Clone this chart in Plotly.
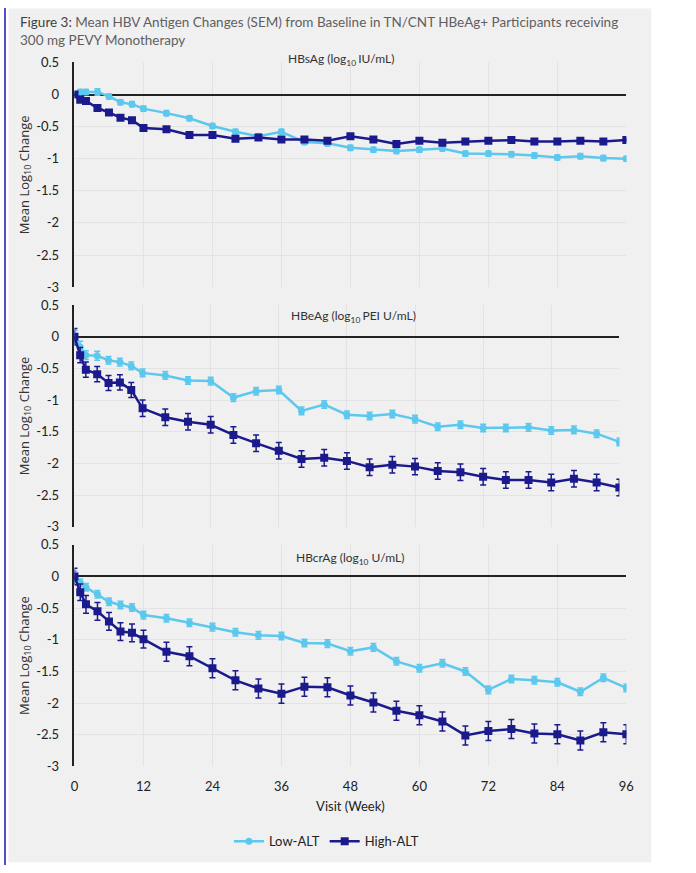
import plotly.graph_objects as go

# weeks of visit
weeks = [0, 1, 2, 4, 6, 8, 10, 12, 16, 20, 24, 28, 32, 36, 40, 44, 48, 52, 56, 60, 64, 68, 72, 76, 80, 84, 88, 92, 96]

# HBsAg
hbsag_low = [0, 0.04, 0.04, 0.04, -0.03, -0.12, -0.15, -0.22, -0.29, -0.37, -0.49, -0.58, -0.65, -0.58, -0.74,
             -0.76, -0.83, -0.86, -0.88, -0.86, -0.84, -0.92, -0.92, -0.93, -0.95, -0.98, -0.96, -0.99, -1.00]
hbsag_low_sem = [0.02, 0.04, 0.04, 0.05, 0.04, 0.04, 0.04, 0.04, 0.04, 0.04, 0.04, 0.04, 0.04, 0.04, 0.04,
                 0.04, 0.04, 0.04, 0.04, 0.04, 0.04, 0.04, 0.04, 0.04, 0.04, 0.04, 0.04, 0.04, 0.04]
hbsag_high = [0, -0.08, -0.10, -0.21, -0.28, -0.36, -0.40, -0.52, -0.54, -0.63, -0.63, -0.69, -0.67, -0.70, -0.70,
              -0.72, -0.65, -0.70, -0.77, -0.72, -0.75, -0.73, -0.72, -0.71, -0.73, -0.73, -0.72, -0.73, -0.71]
hbsag_high_sem = [0.02, 0.02, 0.02, 0.02, 0.02, 0.02, 0.02, 0.02, 0.02, 0.02, 0.02, 0.02, 0.02, 0.02, 0.02,
                  0.02, 0.02, 0.02, 0.02, 0.02, 0.02, 0.02, 0.02, 0.02, 0.02, 0.02, 0.02, 0.02, 0.02]

# HBeAg
hbeag_low = [0, -0.16, -0.29, -0.30, -0.37, -0.40, -0.46, -0.57, -0.61, -0.69, -0.70, -0.96, -0.86, -0.84, -1.17,
             -1.07, -1.23, -1.25, -1.22, -1.30, -1.42, -1.39, -1.44, -1.44, -1.43, -1.48, -1.47, -1.53, -1.66]
hbeag_low_sem = [0.10, 0.09, 0.07, 0.07, 0.06, 0.06, 0.06, 0.06, 0.06, 0.06, 0.06, 0.06, 0.06, 0.06, 0.06,
                 0.06, 0.06, 0.06, 0.06, 0.06, 0.06, 0.06, 0.06, 0.06, 0.06, 0.06, 0.06, 0.06, 0.06]
hbeag_high = [0, -0.29, -0.52, -0.59, -0.73, -0.72, -0.84, -1.13, -1.27, -1.34, -1.39, -1.55, -1.68, -1.80, -1.93,
              -1.91, -1.96, -2.06, -2.02, -2.05, -2.12, -2.14, -2.21, -2.26, -2.26, -2.30, -2.24, -2.30, -2.38]
hbeag_high_sem = [0.13, 0.12, 0.12, 0.12, 0.12, 0.12, 0.12, 0.13, 0.13, 0.13, 0.13, 0.13, 0.13, 0.13, 0.13,
                  0.13, 0.13, 0.13, 0.13, 0.13, 0.13, 0.13, 0.13, 0.13, 0.13, 0.13, 0.13, 0.13, 0.13]

# HBcrAg
hbcrag_low = [0, -0.10, -0.17, -0.28, -0.40, -0.45, -0.49, -0.61, -0.66, -0.73, -0.80, -0.88, -0.93, -0.94, -1.05,
              -1.06, -1.18, -1.12, -1.34, -1.45, -1.37, -1.50, -1.79, -1.62, -1.64, -1.67, -1.82, -1.60, -1.76]
hbcrag_low_sem = [0.08, 0.06, 0.06, 0.06, 0.06, 0.06, 0.06, 0.06, 0.06, 0.06, 0.06, 0.06, 0.06, 0.06, 0.06,
                  0.06, 0.06, 0.06, 0.06, 0.06, 0.06, 0.06, 0.06, 0.06, 0.06, 0.06, 0.06, 0.06, 0.06]
hbcrag_high = [0, -0.25, -0.44, -0.55, -0.71, -0.87, -0.89, -0.99, -1.19, -1.26, -1.45, -1.64, -1.77, -1.85, -1.74,
               -1.75, -1.88, -1.99, -2.12, -2.19, -2.29, -2.51, -2.44, -2.41, -2.48, -2.49, -2.59, -2.46, -2.49]
hbcrag_high_sem = [0.13, 0.13, 0.14, 0.14, 0.14, 0.14, 0.14, 0.14, 0.15, 0.15, 0.15, 0.15, 0.15, 0.15, 0.15,
                   0.15, 0.15, 0.15, 0.15, 0.15, 0.15, 0.15, 0.15, 0.15, 0.15, 0.15, 0.15, 0.15, 0.15]

panel_titles = ["HBsAg (log<sub>10 </sub>IU/mL)", "HBeAg (log<sub>10 </sub>PEI U/mL)", "HBcrAg (log<sub>10</sub> U/mL)"]
x_ticks = [0, 12, 24, 36, 48, 60, 72, 84, 96]
y_ticks = [0.5, 0, -0.5, -1, -1.5, -2, -2.5, -3]
y_labels = ["0.5", "0", "-0.5", "-1", "-1.5", "-2", "-2.5", "-3"]

LIGHT = "#5cc8ee"
DARK = "#1b1a8c"
FONT = "Lato"

# figure fills the window; positions below are wanted screen pixels,
# corrected for the small shrink/offset seen in the snapshot
W, H = 696, 873
S, AX, AY = 0.983, 3.5, 6.5
def fx(px):
    return ((px - AX) / S) / W
def fy(py):
    return 1 - ((py - AY) / S) / H

# plot areas in window pixels: (x0, x1, ytop, ybottom)
areas = [(74, 626, 61, 286), (74, 619, 304, 526), (74, 626, 544, 766)]

series = [
    (hbsag_low, hbsag_low_sem, hbsag_high, hbsag_high_sem),
    (hbeag_low, hbeag_low_sem, hbeag_high, hbeag_high_sem),
    (hbcrag_low, hbcrag_low_sem, hbcrag_high, hbcrag_high_sem),
]

fig = go.Figure()
layout = {}
for i, (low, low_sem, high, high_sem) in enumerate(series):
    n = "" if i == 0 else str(i + 1)
    x0, x1, yt, yb = areas[i]
    fig.add_trace(go.Scatter(
        x=weeks, y=low, name="Low-ALT", mode="lines+markers",
        line=dict(color=LIGHT, width=2.5),
        marker=dict(symbol="circle", size=7, color=LIGHT),
        error_y=dict(type="data", array=low_sem, color=LIGHT, thickness=1.5, width=3),
        xaxis="x" + n, yaxis="y" + n, showlegend=(i == 0)))
    fig.add_trace(go.Scatter(
        x=weeks, y=high, name="High-ALT", mode="lines+markers",
        line=dict(color=DARK, width=2.5),
        marker=dict(symbol="square", size=8, color=DARK),
        error_y=dict(type="data", array=high_sem, color=DARK, thickness=1.5, width=3),
        xaxis="x" + n, yaxis="y" + n, showlegend=(i == 0)))
    layout["xaxis" + n] = dict(
        domain=[fx(x0), fx(x1)], range=[0, 96], anchor="y" + n,
        tickvals=x_ticks, showticklabels=(i == 2), showgrid=True, gridcolor="#e3e3e3", gridwidth=1,
        zeroline=False, showline=False, ticks="", ticklabelstandoff=11,
        tickfont=dict(family=FONT, size=13, color="#222"),
        title=dict(text="Visit (Week)" if i == 2 else "", font=dict(family=FONT, size=13, color="#222"), standoff=8))
    layout["yaxis" + n] = dict(
        domain=[fy(yb), fy(yt)], range=[-3, 0.5], anchor="x" + n,
        tickvals=y_ticks, ticktext=y_labels, showgrid=True, gridcolor="#e3e3e3", gridwidth=1,
        zeroline=True, zerolinecolor="#222", zerolinewidth=1.5,
        showline=True, linecolor="#222", linewidth=1.5, ticks="", ticklabelstandoff=11,
        tickfont=dict(family=FONT, size=13, color="#222"),
        title=dict(text="Mean Log<sub>10</sub> Change", font=dict(family="Open Sans", size=13, color="#333"), standoff=4))

annotations = [dict(
    x=fx(18), y=fy(11), xref="paper", yref="paper", xanchor="left", yanchor="top", align="left",
    text="<span style='color:#3f3f3f'>Figure 3:</span> Mean HBV Antigen Changes (SEM) from Baseline in TN/CNT HBeAg+ Participants receiving<br>300 mg PEVY Monotherapy",
    showarrow=False, font=dict(family=FONT, size=13.5, color="#5f5f5f"))]
title_pos = [(341, 58), (353, 315), (350, 558)]
for t, (px, py) in zip(panel_titles, title_pos):
    annotations.append(dict(x=fx(px), y=fy(py), xref="paper", yref="paper", xanchor="center", yanchor="middle",
                            text=t, showarrow=False, font=dict(family=FONT, size=12, color="#333")))

fig.update_layout(
    width=W, height=H, margin=dict(l=0, r=0, t=0, b=0),
    paper_bgcolor="white", plot_bgcolor="#f0f0f0",
    shapes=[dict(type="rect", xref="paper", yref="paper", x0=max(fx(8), 0), x1=fx(651), y0=max(fy(862), 0), y1=min(fy(7), 1),
                 fillcolor="#f0f0f0", line=dict(width=0), layer="below"),
            dict(type="rect", xref="paper", yref="paper", x0=0, x1=2 / W, y0=0, y1=1,
                 fillcolor="#4d4dc6", line=dict(width=0), layer="below")],
    annotations=annotations,
    legend=dict(orientation="h", x=fx(326), y=fy(841), xanchor="center", yanchor="middle",
                font=dict(family=FONT, size=13, color="#222"), bgcolor="rgba(0,0,0,0)", itemwidth=30),
    **layout)

fig.write_html("out.html", config={"displayModeBar": False},
               post_script="document.body.style.margin='0';document.body.style.overflow='hidden';")
